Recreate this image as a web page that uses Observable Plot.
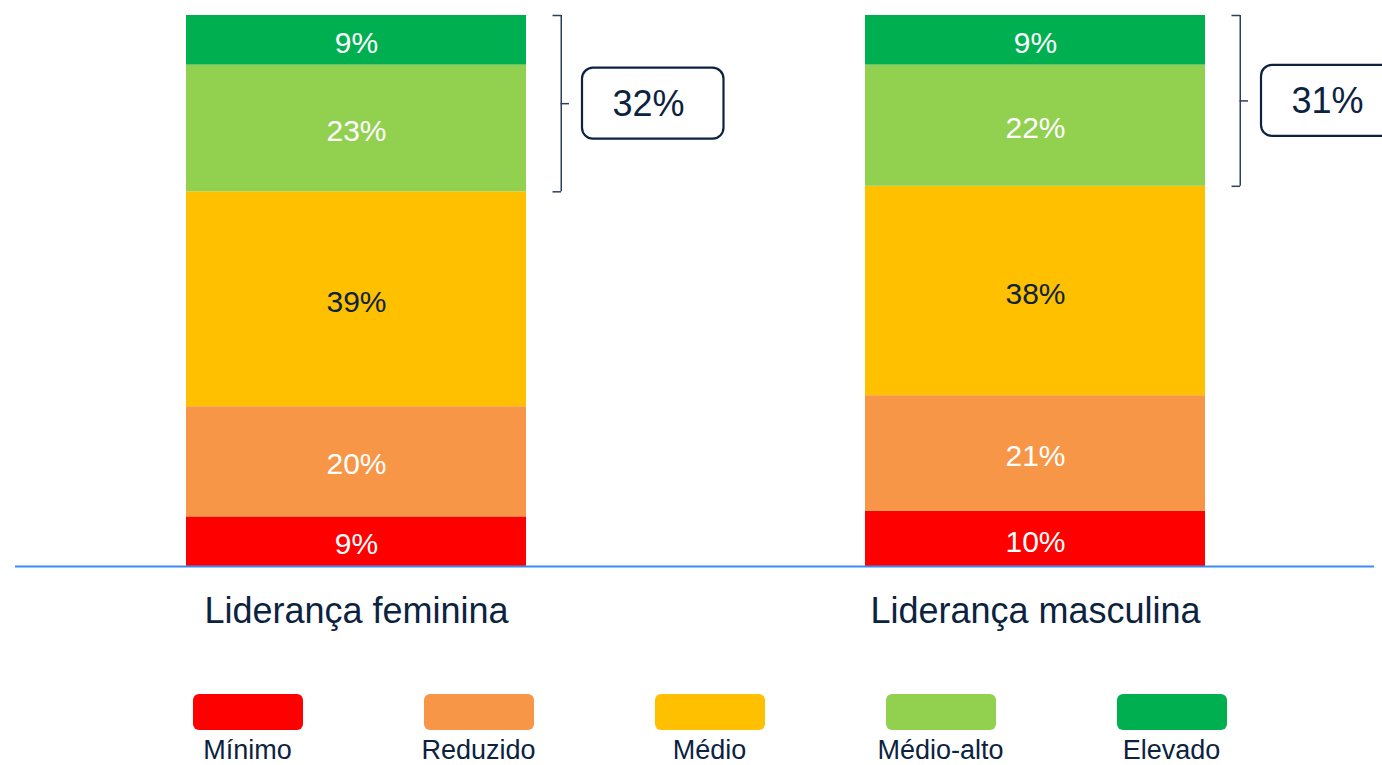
<!DOCTYPE html>
<html>
<head>
<meta charset="utf-8">
<script src="https://cdn.jsdelivr.net/npm/d3@7"></script>
<script src="https://cdn.jsdelivr.net/npm/@observablehq/plot@0.6"></script>
<style>
  html, body { margin: 0; padding: 0; background: #fff; }
  body { font-family: "Liberation Sans", Arial, sans-serif; width: 1382px; height: 765px; overflow: hidden; }
  #legend { display: flex; padding-left: 132px; margin-top: 14px; }
  .item { width: 231px; display: flex; flex-direction: column; align-items: center; }
  .sw { width: 110px; height: 36px; border-radius: 6px; }
  .lb { font-size: 27px; color: #0c2340; margin-top: 7px; line-height: 1; }
</style>
</head>
<body>
<div id="chart"></div>
<div id="legend"></div>
<script>
const categories = ["Liderança feminina", "Liderança masculina"];
const levels = ["Mínimo", "Reduzido", "Médio", "Médio-alto", "Elevado"];
const feminina = [9, 20, 39, 23, 9];
const masculina = [10, 21, 38, 22, 9];
const levelColors = ["#ff0000", "#f79646", "#ffc000", "#92d050", "#00b050"];
const topTotals = [32, 31];
const darkLabelLevels = ["Médio"];

const navy = "#0c2340";

const rows = [];
[feminina, masculina].forEach((vals, ci) => {
  vals.forEach((v, li) => rows.push({cat: categories[ci], level: levels[li], value: v}));
});

// bracket spanning the two highest levels of each bar
const brackets = categories.map((c, i) => {
  const vals = i === 0 ? feminina : masculina;
  const lo = d3.sum(vals.slice(0, 3));
  const hi = d3.sum(vals);
  return {cat: c, lo, hi, mid: (lo + hi) / 2, label: topTotals[i] + "%"};
});

const bw = 339.5; // bandwidth used for inset offsets

const chart = Plot.plot({
  width: 1382,
  height: 680,
  marginTop: 15,
  marginBottom: 114,
  marginLeft: 15,
  marginRight: 8,
  style: {fontFamily: '"Liberation Sans", Arial, sans-serif', background: "#fff"},
  x: {domain: categories, range: [186, 1204.5], paddingInner: 0.5, paddingOuter: 0, label: null},
  y: {domain: [0, 100], axis: null},
  color: {domain: levels, range: levelColors},
  marks: [
    Plot.barY(rows, Plot.stackY({x: "cat", y: "value", fill: "level", z: "level"})),
    Plot.text(rows, Plot.stackY({
      x: "cat", y: "value", z: "level",
      text: d => darkLabelLevels.includes(d.level) ? "" : d.value + "%",
      fill: "white", fontSize: 30, dy: 3
    })),
    Plot.text(rows, Plot.stackY({
      x: "cat", y: "value", z: "level",
      text: d => darkLabelLevels.includes(d.level) ? d.value + "%" : "",
      fill: navy, fontSize: 30, dy: 3
    })),
    Plot.ruleY([0], {stroke: "#3d8af7", strokeWidth: 2}),
    Plot.axisX({tickSize: 0, tickPadding: 31, fontSize: 36, fill: navy, label: null}),
    // bracket vertical
    Plot.ruleX(brackets, {x: "cat", y1: "lo", y2: "hi", dx: bw / 2 + 35, stroke: "#2e3f5c", strokeWidth: 1.5}),
    // bracket end caps
    Plot.ruleY(brackets, {x1: "cat", x2: "cat", y: "lo", insetLeft: bw + 27, insetRight: -35, stroke: "#2e3f5c", strokeWidth: 1.5}),
    Plot.ruleY(brackets, {x1: "cat", x2: "cat", y: "hi", insetLeft: bw + 27, insetRight: -35, stroke: "#2e3f5c", strokeWidth: 1.5}),
    // bracket middle tick
    Plot.ruleY(brackets, {x1: "cat", x2: "cat", y: "mid", insetLeft: bw + 35, insetRight: -43, stroke: "#2e3f5c", strokeWidth: 1.5}),
    // total boxes
    Plot.rect(brackets, {x: "cat", y1: "mid", y2: "mid", insetLeft: 396, insetRight: -197.5, insetTop: -35.5, insetBottom: -35.5, rx: 11, fill: "white", stroke: navy, strokeWidth: 2.2}),
    Plot.text(brackets, {x: "cat", y: "mid", dx: 292, dy: 1, text: "label", fontSize: 36, fill: navy})
  ]
});
document.getElementById("chart").appendChild(chart);

const legend = document.getElementById("legend");
levels.forEach((l, i) => {
  const item = document.createElement("div");
  item.className = "item";
  const sw = document.createElement("div");
  sw.className = "sw";
  sw.style.background = levelColors[i];
  const lb = document.createElement("div");
  lb.className = "lb";
  lb.textContent = l;
  item.appendChild(sw);
  item.appendChild(lb);
  legend.appendChild(item);
});
</script>
</body>
</html>
